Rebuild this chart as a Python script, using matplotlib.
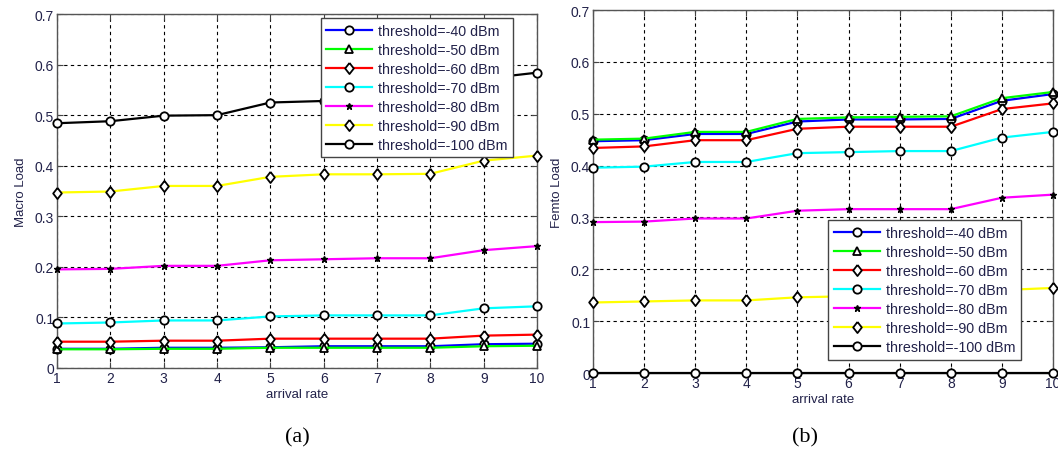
import matplotlib
matplotlib.use('Agg')
import matplotlib.pyplot as plt
import numpy as np

# arrival rate on x, load on y
rate = [1, 2, 3, 4, 5, 6, 7, 8, 9, 10]
labels = ['threshold=-40 dBm', 'threshold=-50 dBm', 'threshold=-60 dBm',
          'threshold=-70 dBm', 'threshold=-80 dBm', 'threshold=-90 dBm',
          'threshold=-100 dBm']

# (a) macro load
macro_40 = [0.038, 0.038, 0.040, 0.040, 0.041, 0.043, 0.043, 0.043, 0.047, 0.048]
macro_50 = [0.037, 0.037, 0.038, 0.038, 0.040, 0.040, 0.040, 0.040, 0.043, 0.044]
macro_60 = [0.052, 0.052, 0.054, 0.054, 0.058, 0.058, 0.058, 0.058, 0.064, 0.066]
macro_70 = [0.088, 0.090, 0.094, 0.094, 0.102, 0.104, 0.104, 0.104, 0.118, 0.122]
macro_80 = [0.195, 0.196, 0.202, 0.202, 0.213, 0.215, 0.217, 0.217, 0.233, 0.241]
macro_90 = [0.347, 0.349, 0.360, 0.360, 0.378, 0.383, 0.383, 0.384, 0.410, 0.420]
macro_100 = [0.484, 0.488, 0.499, 0.500, 0.525, 0.528, 0.530, 0.530, 0.572, 0.584]

# (b) femto load
femto_40 = [0.447, 0.449, 0.461, 0.461, 0.485, 0.489, 0.489, 0.490, 0.525, 0.538]
femto_50 = [0.450, 0.452, 0.465, 0.465, 0.490, 0.493, 0.494, 0.495, 0.530, 0.542]
femto_60 = [0.434, 0.437, 0.449, 0.449, 0.471, 0.475, 0.475, 0.475, 0.509, 0.520]
femto_70 = [0.396, 0.398, 0.407, 0.407, 0.424, 0.426, 0.428, 0.428, 0.454, 0.465]
femto_80 = [0.291, 0.292, 0.298, 0.298, 0.313, 0.316, 0.316, 0.316, 0.338, 0.344]
femto_90 = [0.136, 0.138, 0.140, 0.140, 0.146, 0.148, 0.148, 0.149, 0.160, 0.164]
femto_100 = [0.0, 0.0, 0.0, 0.0, 0.0, 0.0, 0.0, 0.0, 0.0, 0.0]

colors = ['#0000ff', '#00ff00', '#ff0000', '#00ffff', '#ff00ff', '#ffff00', '#000000']
# matlab style diamond: a bit taller than wide
diamond = [(0, 1), (0.78, 0), (0, -1), (-0.78, 0), (0, 1)]
markers = ['o', '^', diamond, 'o', '*', diamond, 'o']
tick_color = '#22224a'

plt.rcParams['font.family'] = ['Liberation Sans', 'DejaVu Sans']

fig = plt.figure(figsize=(10.58, 4.56), dpi=100)
ax0 = fig.add_axes([0.0539, 0.1908, 0.4537, 0.7763])
ax1 = fig.add_axes([0.5605, 0.1798, 0.4348, 0.796])


def draw(ax, series, ylabel, leg_loc, leg_anchor):
    for ys, c, m, lab in zip(series, colors, markers, labels):
        if isinstance(m, str) and m == '*':
            ax.plot(rate, ys, '-', color=c, lw=1.6, marker=m, ms=5,
                    mfc='k', mec='k', label=lab, clip_on=False, zorder=3)
        else:
            ax.plot(rate, ys, '-', color=c, lw=1.6, marker=m,
                    ms=8 if not isinstance(m, str) else 6, mfc='white',
                    mec='k', mew=1.3, label=lab, clip_on=False, zorder=3)
    ax.set_xlim(1, 10)
    ax.set_ylim(0, 0.7)
    ax.set_xticks(rate)
    ax.set_yticks(np.arange(0, 0.71, 0.1))
    ax.set_yticklabels(['0', '0.1', '0.2', '0.3', '0.4', '0.5', '0.6', '0.7'])
    ax.grid(True, color='k', ls=(0, (3, 3)), lw=0.8)
    ax.tick_params(direction='in', top=True, right=True, labelsize=10,
                   colors='#444444', labelcolor=tick_color, length=4, pad=2)
    for s in ax.spines.values():
        s.set_color('#555555')
        s.set_linewidth(1.0)
    ax.set_xlabel('arrival rate', fontsize=9.5, color=tick_color, labelpad=2)
    ax.set_ylabel(ylabel, fontsize=9.5, color=tick_color, labelpad=6)
    leg = ax.legend(loc=leg_loc, bbox_to_anchor=leg_anchor, borderaxespad=0,
                    fontsize=10.3, fancybox=False, framealpha=1,
                    edgecolor='#444444', handlelength=3.2, labelspacing=0.35,
                    borderpad=0.4, handletextpad=0.4)
    leg.get_frame().set_linewidth(1.0)
    for t in leg.get_texts():
        t.set_color(tick_color)
    leg.set_zorder(5)


draw(ax0, [macro_40, macro_50, macro_60, macro_70, macro_80, macro_90, macro_100],
     'Macro Load', 'upper right', (0.95, 0.989))
draw(ax1, [femto_40, femto_50, femto_60, femto_70, femto_80, femto_90, femto_100],
     'Femto Load', 'lower right', (0.93, 0.036))

fig.text(297 / 1058, 1 - 438 / 456, '(a)', ha='center', va='center',
         fontsize=16, family='Liberation Serif')
fig.text(805 / 1058, 1 - 438 / 456, '(b)', ha='center', va='center',
         fontsize=16, family='Liberation Serif')

fig.savefig('out.png', dpi=100)
